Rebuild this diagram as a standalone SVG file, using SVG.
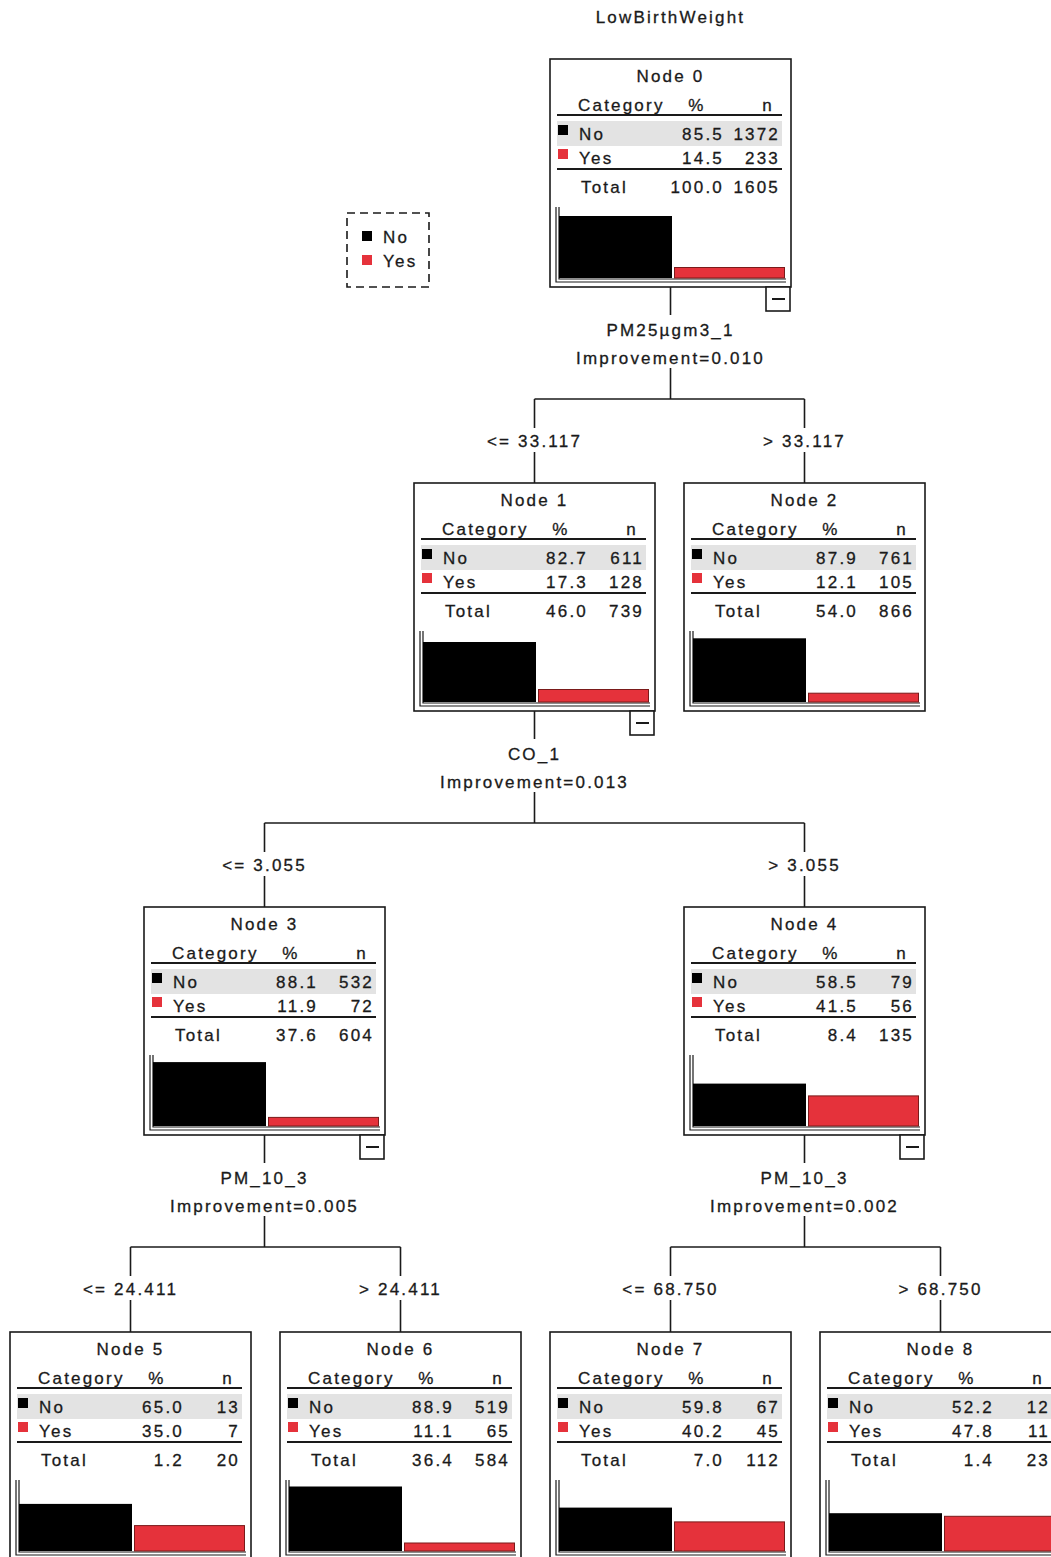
<svg xmlns="http://www.w3.org/2000/svg" width="1051" height="1557" viewBox="0 0 1051 1557">
<defs>
<style>
.t{font-family:"Liberation Sans",Arial,sans-serif;font-size:17px;letter-spacing:2.2px;fill:#1a1a1a;stroke:#1a1a1a;stroke-width:0.3}
.m{text-anchor:middle}
.e{text-anchor:end}
.box{fill:#fff;stroke:#1a1a1a;stroke-width:1.6}
.hl{stroke:#1a1a1a;stroke-width:2}
.ax{stroke:#1a1a1a;stroke-width:1.2;fill:none}
.row{fill:#e3e3e3}
.bk{fill:#000}
.rq{fill:#e5323b}
.rd{fill:#e5323b;stroke:#7a1a1a;stroke-width:1}
.conn line{stroke:#1a1a1a;stroke-width:1.6}
.leg{fill:#fff;stroke:#1a1a1a;stroke-width:1.6;stroke-dasharray:8 5}
</style>
</defs>
<rect width="1051" height="1557" fill="#fff"/>
<text class="t m" x="670.5" y="23">LowBirthWeight</text>

<g id="legend">
<rect class="leg" x="347" y="213" width="82" height="74"/>
<rect class="bk" x="362" y="231" width="10" height="10"/>
<text class="t" x="383" y="243">No</text>
<rect class="rq" x="362" y="255" width="10" height="10"/>
<text class="t" x="383" y="267">Yes</text>
</g>

<g id="connectors" class="conn">
<line x1="670.5" y1="287" x2="670.5" y2="315"/>
<line x1="670.5" y1="368" x2="670.5" y2="399"/>
<line x1="534.5" y1="399" x2="804.5" y2="399"/>
<line x1="534.5" y1="399" x2="534.5" y2="428"/>
<line x1="804.5" y1="399" x2="804.5" y2="428"/>
<line x1="534.5" y1="452" x2="534.5" y2="483"/>
<line x1="804.5" y1="452" x2="804.5" y2="483"/>
<text class="t m" x="670.5" y="336">PM25µgm3_1</text>
<text class="t m" x="670.5" y="364">Improvement=0.010</text>
<text class="t m" x="534.5" y="447">&lt;= 33.117</text>
<text class="t m" x="804.5" y="447">&gt; 33.117</text>

<line x1="534.5" y1="711" x2="534.5" y2="739"/>
<line x1="534.5" y1="792" x2="534.5" y2="823"/>
<line x1="264.5" y1="823" x2="804.5" y2="823"/>
<line x1="264.5" y1="823" x2="264.5" y2="852"/>
<line x1="804.5" y1="823" x2="804.5" y2="852"/>
<line x1="264.5" y1="876" x2="264.5" y2="907"/>
<line x1="804.5" y1="876" x2="804.5" y2="907"/>
<text class="t m" x="534.5" y="760">CO_1</text>
<text class="t m" x="534.5" y="788">Improvement=0.013</text>
<text class="t m" x="264.5" y="871">&lt;= 3.055</text>
<text class="t m" x="804.5" y="871">&gt; 3.055</text>

<line x1="264.5" y1="1135" x2="264.5" y2="1163"/>
<line x1="264.5" y1="1216" x2="264.5" y2="1247"/>
<line x1="130.5" y1="1247" x2="400.5" y2="1247"/>
<line x1="130.5" y1="1247" x2="130.5" y2="1276"/>
<line x1="400.5" y1="1247" x2="400.5" y2="1276"/>
<line x1="130.5" y1="1300" x2="130.5" y2="1332"/>
<line x1="400.5" y1="1300" x2="400.5" y2="1332"/>
<text class="t m" x="264.5" y="1184">PM_10_3</text>
<text class="t m" x="264.5" y="1212">Improvement=0.005</text>
<text class="t m" x="130.5" y="1295">&lt;= 24.411</text>
<text class="t m" x="400.5" y="1295">&gt; 24.411</text>

<line x1="804.5" y1="1135" x2="804.5" y2="1163"/>
<line x1="804.5" y1="1216" x2="804.5" y2="1247"/>
<line x1="670.5" y1="1247" x2="940.5" y2="1247"/>
<line x1="670.5" y1="1247" x2="670.5" y2="1276"/>
<line x1="940.5" y1="1247" x2="940.5" y2="1276"/>
<line x1="670.5" y1="1300" x2="670.5" y2="1332"/>
<line x1="940.5" y1="1300" x2="940.5" y2="1332"/>
<text class="t m" x="804.5" y="1184">PM_10_3</text>
<text class="t m" x="804.5" y="1212">Improvement=0.002</text>
<text class="t m" x="670.5" y="1295">&lt;= 68.750</text>
<text class="t m" x="940.5" y="1295">&gt; 68.750</text>
</g>

<g id="node0" transform="translate(550,59)">
<rect class="box" x="0" y="0" width="241" height="228"/>
<text class="t m" x="120.5" y="23">Node 0</text>
<text class="t" x="28" y="52">Category</text><text class="t m" x="147" y="52">%</text><text class="t e" x="224" y="52">n</text>
<line class="hl" x1="7" y1="56" x2="232" y2="56"/>
<rect class="row" x="7" y="62" width="225" height="25"/>
<rect class="bk" x="8" y="66" width="10" height="10"/>
<text class="t" x="29" y="81">No</text><text class="t e" x="174" y="81">85.5</text><text class="t e" x="230" y="81">1372</text>
<rect class="rq" x="8" y="90" width="10" height="10"/>
<text class="t" x="29" y="105">Yes</text><text class="t e" x="174" y="105">14.5</text><text class="t e" x="230" y="105">233</text>
<line class="hl" x1="7" y1="110" x2="232" y2="110"/>
<text class="t" x="31" y="134">Total</text><text class="t e" x="174" y="134">100.0</text><text class="t e" x="230" y="134">1605</text>
<path class="ax" d="M6 148V223H236M9 148V220H236"/>
<rect class="bk" x="9" y="157" width="113" height="62"/>
<rect class="rd" x="124.5" y="208.5" width="110" height="10.5"/>
<rect class="box" x="216" y="228" width="24" height="24"/>
<line class="hl" x1="222" y1="240" x2="235" y2="240"/>
</g>

<g id="node1" transform="translate(414,483)">
<rect class="box" x="0" y="0" width="241" height="228"/>
<text class="t m" x="120.5" y="23">Node 1</text>
<text class="t" x="28" y="52">Category</text><text class="t m" x="147" y="52">%</text><text class="t e" x="224" y="52">n</text>
<line class="hl" x1="7" y1="56" x2="232" y2="56"/>
<rect class="row" x="7" y="62" width="225" height="25"/>
<rect class="bk" x="8" y="66" width="10" height="10"/>
<text class="t" x="29" y="81">No</text><text class="t e" x="174" y="81">82.7</text><text class="t e" x="230" y="81">611</text>
<rect class="rq" x="8" y="90" width="10" height="10"/>
<text class="t" x="29" y="105">Yes</text><text class="t e" x="174" y="105">17.3</text><text class="t e" x="230" y="105">128</text>
<line class="hl" x1="7" y1="110" x2="232" y2="110"/>
<text class="t" x="31" y="134">Total</text><text class="t e" x="174" y="134">46.0</text><text class="t e" x="230" y="134">739</text>
<path class="ax" d="M6 148V223H236M9 148V220H236"/>
<rect class="bk" x="9" y="159" width="113" height="60"/>
<rect class="rd" x="124.5" y="206.5" width="110" height="12.5"/>
<rect class="box" x="216" y="228" width="24" height="24"/>
<line class="hl" x1="222" y1="240" x2="235" y2="240"/>
</g>

<g id="node2" transform="translate(684,483)">
<rect class="box" x="0" y="0" width="241" height="228"/>
<text class="t m" x="120.5" y="23">Node 2</text>
<text class="t" x="28" y="52">Category</text><text class="t m" x="147" y="52">%</text><text class="t e" x="224" y="52">n</text>
<line class="hl" x1="7" y1="56" x2="232" y2="56"/>
<rect class="row" x="7" y="62" width="225" height="25"/>
<rect class="bk" x="8" y="66" width="10" height="10"/>
<text class="t" x="29" y="81">No</text><text class="t e" x="174" y="81">87.9</text><text class="t e" x="230" y="81">761</text>
<rect class="rq" x="8" y="90" width="10" height="10"/>
<text class="t" x="29" y="105">Yes</text><text class="t e" x="174" y="105">12.1</text><text class="t e" x="230" y="105">105</text>
<line class="hl" x1="7" y1="110" x2="232" y2="110"/>
<text class="t" x="31" y="134">Total</text><text class="t e" x="174" y="134">54.0</text><text class="t e" x="230" y="134">866</text>
<path class="ax" d="M6 148V223H236M9 148V220H236"/>
<rect class="bk" x="9" y="155.3" width="113" height="63.7"/>
<rect class="rd" x="124.5" y="210.2" width="110" height="8.8"/>
</g>

<g id="node3" transform="translate(144,907)">
<rect class="box" x="0" y="0" width="241" height="228"/>
<text class="t m" x="120.5" y="23">Node 3</text>
<text class="t" x="28" y="52">Category</text><text class="t m" x="147" y="52">%</text><text class="t e" x="224" y="52">n</text>
<line class="hl" x1="7" y1="56" x2="232" y2="56"/>
<rect class="row" x="7" y="62" width="225" height="25"/>
<rect class="bk" x="8" y="66" width="10" height="10"/>
<text class="t" x="29" y="81">No</text><text class="t e" x="174" y="81">88.1</text><text class="t e" x="230" y="81">532</text>
<rect class="rq" x="8" y="90" width="10" height="10"/>
<text class="t" x="29" y="105">Yes</text><text class="t e" x="174" y="105">11.9</text><text class="t e" x="230" y="105">72</text>
<line class="hl" x1="7" y1="110" x2="232" y2="110"/>
<text class="t" x="31" y="134">Total</text><text class="t e" x="174" y="134">37.6</text><text class="t e" x="230" y="134">604</text>
<path class="ax" d="M6 148V223H236M9 148V220H236"/>
<rect class="bk" x="9" y="155.1" width="113" height="63.9"/>
<rect class="rd" x="124.5" y="210.4" width="110" height="8.6"/>
<rect class="box" x="216" y="228" width="24" height="24"/>
<line class="hl" x1="222" y1="240" x2="235" y2="240"/>
</g>

<g id="node4" transform="translate(684,907)">
<rect class="box" x="0" y="0" width="241" height="228"/>
<text class="t m" x="120.5" y="23">Node 4</text>
<text class="t" x="28" y="52">Category</text><text class="t m" x="147" y="52">%</text><text class="t e" x="224" y="52">n</text>
<line class="hl" x1="7" y1="56" x2="232" y2="56"/>
<rect class="row" x="7" y="62" width="225" height="25"/>
<rect class="bk" x="8" y="66" width="10" height="10"/>
<text class="t" x="29" y="81">No</text><text class="t e" x="174" y="81">58.5</text><text class="t e" x="230" y="81">79</text>
<rect class="rq" x="8" y="90" width="10" height="10"/>
<text class="t" x="29" y="105">Yes</text><text class="t e" x="174" y="105">41.5</text><text class="t e" x="230" y="105">56</text>
<line class="hl" x1="7" y1="110" x2="232" y2="110"/>
<text class="t" x="31" y="134">Total</text><text class="t e" x="174" y="134">8.4</text><text class="t e" x="230" y="134">135</text>
<path class="ax" d="M6 148V223H236M9 148V220H236"/>
<rect class="bk" x="9" y="176.6" width="113" height="42.4"/>
<rect class="rd" x="124.5" y="188.9" width="110" height="30.1"/>
<rect class="box" x="216" y="228" width="24" height="24"/>
<line class="hl" x1="222" y1="240" x2="235" y2="240"/>
</g>

<g id="node5" transform="translate(10,1332)">
<rect class="box" x="0" y="0" width="241" height="228"/>
<text class="t m" x="120.5" y="23">Node 5</text>
<text class="t" x="28" y="52">Category</text><text class="t m" x="147" y="52">%</text><text class="t e" x="224" y="52">n</text>
<line class="hl" x1="7" y1="56" x2="232" y2="56"/>
<rect class="row" x="7" y="62" width="225" height="25"/>
<rect class="bk" x="8" y="66" width="10" height="10"/>
<text class="t" x="29" y="81">No</text><text class="t e" x="174" y="81">65.0</text><text class="t e" x="230" y="81">13</text>
<rect class="rq" x="8" y="90" width="10" height="10"/>
<text class="t" x="29" y="105">Yes</text><text class="t e" x="174" y="105">35.0</text><text class="t e" x="230" y="105">7</text>
<line class="hl" x1="7" y1="110" x2="232" y2="110"/>
<text class="t" x="31" y="134">Total</text><text class="t e" x="174" y="134">1.2</text><text class="t e" x="230" y="134">20</text>
<path class="ax" d="M6 148V223H236M9 148V220H236"/>
<rect class="bk" x="9" y="171.9" width="113" height="47.1"/>
<rect class="rd" x="124.5" y="193.6" width="110" height="25.4"/>
</g>

<g id="node6" transform="translate(280,1332)">
<rect class="box" x="0" y="0" width="241" height="228"/>
<text class="t m" x="120.5" y="23">Node 6</text>
<text class="t" x="28" y="52">Category</text><text class="t m" x="147" y="52">%</text><text class="t e" x="224" y="52">n</text>
<line class="hl" x1="7" y1="56" x2="232" y2="56"/>
<rect class="row" x="7" y="62" width="225" height="25"/>
<rect class="bk" x="8" y="66" width="10" height="10"/>
<text class="t" x="29" y="81">No</text><text class="t e" x="174" y="81">88.9</text><text class="t e" x="230" y="81">519</text>
<rect class="rq" x="8" y="90" width="10" height="10"/>
<text class="t" x="29" y="105">Yes</text><text class="t e" x="174" y="105">11.1</text><text class="t e" x="230" y="105">65</text>
<line class="hl" x1="7" y1="110" x2="232" y2="110"/>
<text class="t" x="31" y="134">Total</text><text class="t e" x="174" y="134">36.4</text><text class="t e" x="230" y="134">584</text>
<path class="ax" d="M6 148V223H236M9 148V220H236"/>
<rect class="bk" x="9" y="154.5" width="113" height="64.5"/>
<rect class="rd" x="124.5" y="211" width="110" height="8"/>
</g>

<g id="node7" transform="translate(550,1332)">
<rect class="box" x="0" y="0" width="241" height="228"/>
<text class="t m" x="120.5" y="23">Node 7</text>
<text class="t" x="28" y="52">Category</text><text class="t m" x="147" y="52">%</text><text class="t e" x="224" y="52">n</text>
<line class="hl" x1="7" y1="56" x2="232" y2="56"/>
<rect class="row" x="7" y="62" width="225" height="25"/>
<rect class="bk" x="8" y="66" width="10" height="10"/>
<text class="t" x="29" y="81">No</text><text class="t e" x="174" y="81">59.8</text><text class="t e" x="230" y="81">67</text>
<rect class="rq" x="8" y="90" width="10" height="10"/>
<text class="t" x="29" y="105">Yes</text><text class="t e" x="174" y="105">40.2</text><text class="t e" x="230" y="105">45</text>
<line class="hl" x1="7" y1="110" x2="232" y2="110"/>
<text class="t" x="31" y="134">Total</text><text class="t e" x="174" y="134">7.0</text><text class="t e" x="230" y="134">112</text>
<path class="ax" d="M6 148V223H236M9 148V220H236"/>
<rect class="bk" x="9" y="175.6" width="113" height="43.4"/>
<rect class="rd" x="124.5" y="189.9" width="110" height="29.1"/>
</g>

<g id="node8" transform="translate(820,1332)">
<rect class="box" x="0" y="0" width="241" height="228"/>
<text class="t m" x="120.5" y="23">Node 8</text>
<text class="t" x="28" y="52">Category</text><text class="t m" x="147" y="52">%</text><text class="t e" x="224" y="52">n</text>
<line class="hl" x1="7" y1="56" x2="232" y2="56"/>
<rect class="row" x="7" y="62" width="225" height="25"/>
<rect class="bk" x="8" y="66" width="10" height="10"/>
<text class="t" x="29" y="81">No</text><text class="t e" x="174" y="81">52.2</text><text class="t e" x="230" y="81">12</text>
<rect class="rq" x="8" y="90" width="10" height="10"/>
<text class="t" x="29" y="105">Yes</text><text class="t e" x="174" y="105">47.8</text><text class="t e" x="230" y="105">11</text>
<line class="hl" x1="7" y1="110" x2="232" y2="110"/>
<text class="t" x="31" y="134">Total</text><text class="t e" x="174" y="134">1.4</text><text class="t e" x="230" y="134">23</text>
<path class="ax" d="M6 148V223H236M9 148V220H236"/>
<rect class="bk" x="9" y="181.2" width="113" height="37.8"/>
<rect class="rd" x="124.5" y="184.3" width="110" height="34.7"/>
</g>
</svg>
